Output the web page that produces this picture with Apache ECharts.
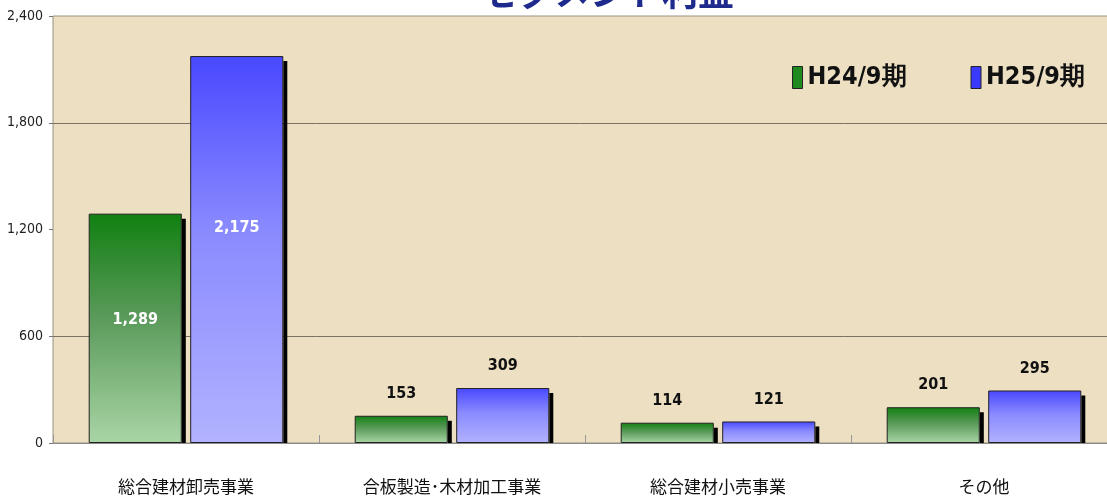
<!DOCTYPE html>
<html><head><meta charset="utf-8">
<script src="https://cdn.jsdelivr.net/npm/echarts@6/dist/echarts.min.js"></script>
<style>html,body{margin:0;padding:0;background:#fff}#c{width:1107px;height:499px}</style>
</head><body><div id="c"></div>
<script>
const categories = ['総合建材卸売事業', '合板製造･木材加工事業', '総合建材小売事業', 'その他'];
const seriesNames = ['H24/9期', 'H25/9期'];
const h24 = [1289, 153, 114, 201];
const h25 = [2175, 309, 121, 295];
const yTicks = [0, 600, 1200, 1800, 2400];

const numFont = '"DejaVu Sans Condensed","Liberation Sans Narrow",sans-serif';
const jpFont = '"Noto Sans CJK JP",sans-serif';
const fmt = v => v.toLocaleString('en-US');
const BAR_W = 0.35, BAR_GAP = 0.09;

function grad(top, mid, bottom) {
  return new echarts.graphic.LinearGradient(0, 0, 0, 1, [
    {offset: 0, color: top}, {offset: 0.45, color: mid}, {offset: 1, color: bottom}
  ]);
}
function makeData(vals, insideOffset) {
  return vals.map(v => {
    if (v > 1000) {
      return {value: v, label: {position: 'inside', color: '#fff', offset: insideOffset}};
    }
    return {value: v};
  });
}
// shadow strips on the right side of each bar, located through the axis scales
const shadowData = [];
h24.forEach((v, i) => shadowData.push([i, v, 0]));
h25.forEach((v, i) => shadowData.push([i, v, 1]));

const labelStyle = {show: true, position: 'top', distance: 14, formatter: p => fmt(p.value),
  fontFamily: numFont, fontSize: 16, fontWeight: 'bold', color: '#111'};

const chart = echarts.init(document.getElementById('c'));
chart.setOption({
  backgroundColor: '#fff',
  animation: false,
  title: {
    text: 'セグメント利益', left: 603, top: -31, textAlign: 'center',
    textStyle: {fontFamily: jpFont, fontSize: 36, fontWeight: 'bold', color: '#1e2a8c'}
  },
  legend: {
    right: 17, top: 60, itemGap: 64, itemWidth: 10, itemHeight: 22, icon: 'rect',
    textStyle: {fontFamily: numFont, fontSize: 25, fontWeight: 'bold', color: '#111'},
    data: [
      {name: seriesNames[0], itemStyle: {color: '#1f8a1f', borderColor: '#222', borderWidth: 1}},
      {name: seriesNames[1], itemStyle: {color: '#3a3aff', borderColor: '#222', borderWidth: 1}}
    ]
  },
  grid: {
    left: 53, right: -10, top: 16, bottom: 56, show: true, outerBoundsMode: 'none',
    backgroundColor: '#ecdfc2', borderColor: '#9a9080', borderWidth: 1
  },
  xAxis: {
    type: 'category', data: categories,
    axisLine: {lineStyle: {color: '#8a8a8a'}},
    axisTick: {show: true, inside: true, length: 8, lineStyle: {color: '#999'}},
    axisLabel: {margin: 35, fontFamily: jpFont, fontSize: 17, color: '#111'}
  },
  yAxis: {
    type: 'value', min: yTicks[0], max: yTicks[yTicks.length - 1], interval: yTicks[1] - yTicks[0],
    axisLine: {show: false},
    axisTick: {show: true, length: 4, lineStyle: {color: '#777'}},
    axisLabel: {fontFamily: numFont, fontSize: 14, color: '#222', margin: 10, formatter: v => fmt(v)},
    splitLine: {lineStyle: {color: ['transparent', '#7a7264', 'transparent', '#7a7264', 'transparent'], width: 1}}
  },
  series: [
    {
      name: 'shadow', type: 'custom', z: 1, silent: true,
      data: shadowData,
      renderItem: function (params, api) {
        const cat = api.value(0), v = api.value(1), s = api.value(2);
        const band = api.size([1, 0])[0];
        const bw = band * BAR_W, gap = bw * BAR_GAP;
        const cx = api.coord([cat, 0])[0];
        const start = cx - (2 * bw + gap) / 2;
        const xr = start + s * (bw + gap) + bw;
        const yTop = api.coord([cat, v])[1];
        const yBot = api.coord([cat, 0])[1];
        return {type: 'rect', shape: {x: xr, y: yTop + 5, width: 4, height: yBot - yTop - 5},
          style: {fill: '#000'}};
      }
    },
    {
      name: seriesNames[0], type: 'bar', barWidth: (BAR_W * 100) + '%', barGap: (BAR_GAP * 100) + '%', z: 2,
      data: makeData(h24, [0, -8]),
      itemStyle: {color: grad('#118011', '#5a9a5a', '#a9d5a5'), borderColor: '#222', borderWidth: 1},
      label: labelStyle
    },
    {
      name: seriesNames[1], type: 'bar', barWidth: (BAR_W * 100) + '%', z: 2,
      data: makeData(h25, [0, -22]),
      itemStyle: {color: grad('#4848ff', '#8a8aff', '#b2b2ff'), borderColor: '#222', borderWidth: 1},
      label: labelStyle
    }
  ]
});
</script></body></html>
